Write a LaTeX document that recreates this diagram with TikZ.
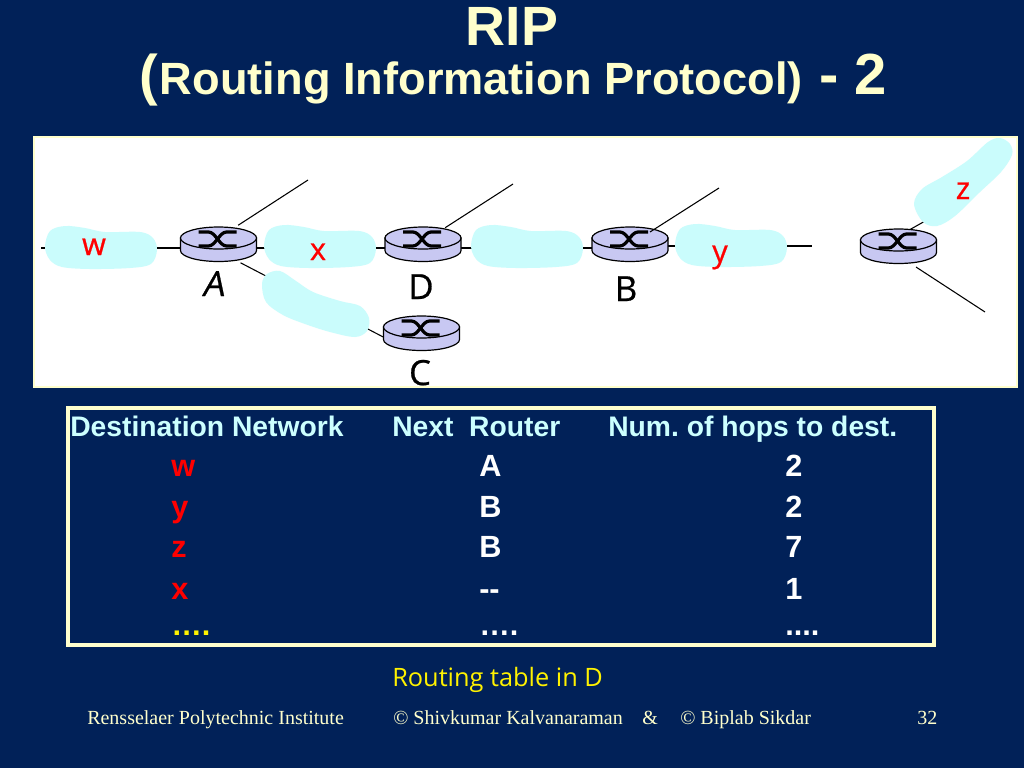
\documentclass[tikz,border=0pt]{standalone}
\usepackage{fontspec}
\setmainfont{Liberation Sans}
\newfontfamily\serifface{Liberation Serif}
\newfontfamily\handface{Open Sans}
\newfontfamily\handbold[FakeBold=0.7]{Open Sans}
\newfontfamily\handslant[FakeBold=0.7,FakeSlant=0.18]{Open Sans}
\usetikzlibrary{shapes.geometric}
\definecolor{bgblue}{HTML}{012158}
\definecolor{cream}{HTML}{FFFFCC}
\definecolor{paleCyan}{HTML}{CCFFFF}
\definecolor{cloudc}{HTML}{CAFCFC}
\definecolor{routerc}{HTML}{C8C8F2}
\tikzset{
  hub/.style={shape=ellipse,minimum width=57pt,minimum height=16.5pt,inner sep=0pt},
  wire/.style={draw=black,line width=0.8pt},
  cloud/.style={fill=cloudc,draw=none},
  rname/.style={font=\handbold\fontsize{26}{26}\selectfont,text=black,anchor=base,inner sep=0pt},
  netname/.style={font=\handbold\fontsize{23}{23}\selectfont,text=red,anchor=base,inner sep=0pt},
  title/.style={text=cream,anchor=base,inner sep=0pt,font=\bfseries},
  thead/.style={text=paleCyan,anchor=base west,inner sep=0pt,font=\bfseries\fontsize{21.2}{21}\selectfont},
  tdest/.style={text=red,anchor=base west,inner sep=0pt,font=\bfseries\fontsize{23}{23}\selectfont},
  tcell/.style={text=white,anchor=base west,inner sep=0pt,font=\bfseries\fontsize{23}{23}\selectfont},
  foot/.style={text=cream,anchor=base west,inner sep=0pt,font=\serifface\fontsize{15}{15}\selectfont},
}
\newcommand{\routerart}[1]{%
  \begin{scope}[shift={(#1.center)}]
    \filldraw[fill=routerc,draw=black,line width=0.9pt] (-38,0) -- (-38,12.5) arc (180:360:28.5pt and 8.25pt) -- (38,0) -- cycle;
    \filldraw[fill=routerc,draw=black,line width=0.9pt] (0,0) ellipse (28.5pt and 8.25pt);
    \draw[black,line width=2.4pt] (-20,-6) -- (-10,-6) .. controls (-3,-6) and (1,8) .. (8,8) -- (18,8);
    \draw[black,line width=2.4pt] (-20,8) -- (-10,8) .. controls (-3,8) and (1,-6) .. (8,-6) -- (18,-6);
  \end{scope}}
\newcommand{\longcloud}[2]{\fill[cloud,shift={(#1,#2)}] plot[smooth cycle,tension=0.55] coordinates {(45,247) (50,231) (65,226) (85,228) (105,232) (140,232) (153,238) (157,250) (151,264) (130,268) (90,269) (62,267) (50,260)};}
\begin{document}
\frenchspacing
\begin{tikzpicture}[x=0.75pt,y=-0.75pt]
\useasboundingbox (0,0) rectangle (1024,768);
\fill[bgblue] (0,0) rectangle (1024,768);
% panel
\filldraw[fill=white,draw=cream,line width=1.5pt] (34,137) rectangle (1017,387);
% hubs
\node[hub] (A) at (218.5,238) {};
\node[hub] (D) at (423,238) {};
\node[hub] (C) at (421.5,327) {};
\node[hub] (B) at (630,238) {};
\node[hub] (E) at (898.5,240) {};
\coordinate (wend) at (41,248);
\coordinate (yend) at (812,246);
\coordinate (aup) at (308,180);
\coordinate (dup) at (513,184);
\coordinate (bup) at (719,188);
\coordinate (zup) at (950,207);
\coordinate (edown) at (985,312);
% wires
\draw[wire] (wend) -- ([yshift=-7.5pt]A.center);
\draw[wire] ([yshift=-7.5pt]A.center) -- ([yshift=-7.5pt]D.center);
\draw[wire] ([yshift=-7.5pt]D.center) -- ([yshift=-7.5pt]B.center);
\draw[wire] ([yshift=-6pt]B.center) -- (yend);
\draw[wire,shorten <=17.6pt] (A.center) -- (aup);
\draw[wire,shorten <=19.8pt] ([yshift=-3pt]D.center) -- (dup);
\draw[wire,shorten <=18.6pt] ([yshift=-10pt]A.center) -- ([yshift=-7.5pt]C.west);
\draw[wire] ([yshift=3pt]E.center) -- (zup);
\draw[wire,shorten <=15.7pt] ([yshift=-11.7pt]E.center) -- (edown);
% routers
\routerart{A}\routerart{D}\routerart{C}\routerart{B}\routerart{E}
\draw[wire] (B.center) ++(20,-6) -- (bup);
% clouds
\longcloud{0}{0}
\longcloud{219}{-1}
\longcloud{426}{-1}
\longcloud{630}{-2}
\fill[cloud] plot[smooth cycle,tension=0.55] coordinates {(262,284) (267,274) (280,271) (296,281) (313,292) (340,301) (360,306) (369,318) (367,331) (355,337) (330,332) (305,324) (283,315) (266,302)};
\fill[cloud] plot[smooth cycle,tension=0.55] coordinates {(1000,138) (1010,144) (1012,155) (1001,172) (980,192) (955,216) (937,226) (923,222) (914,204) (922,189) (942,177) (967,161) (988,142)};
% labels
\node[rname,font=\handslant\fontsize{26}{26}\selectfont] (la) at (213,296) {A};
\node[rname] (ld) at (421,299) {D};
\node[rname] (lb) at (626,301) {B};
\node[rname] (lc) at (420,385) {C};
\node[netname] (nw) at (94,255) {w};
\node[netname] (nx) at (318,260) {x};
\node[netname] (ny) at (720,262) {y};
\node[netname] (nz) at (963,199) {z};
% title
\node[title,font=\bfseries\fontsize{41.5}{41}\selectfont] (t1) at (512,45) {RIP};
\node[title,anchor=base west] (t2) at (139,94) {\fontsize{42}{42}\selectfont (\kern1.5pt\fontsize{33.9}{34}\selectfont Routing Information Protocol)\kern3pt\ \fontsize{43.5}{43}\selectfont - 2};
% table
\draw[cream,line width=3pt] (68,408) rectangle (934,645);
\node[thead] (h1) at (70,436) {Destination Network};
\node[thead] (h2) at (392,436) {Next\ \ Router};
\node[thead] (h3) at (608,436) {Num. of hops to dest.};
\node[tdest] (r1) at (171,476) {w};
\node[tcell] (r1b) at (479,476) {A};
\node[tcell] (r1c) at (785,476) {2};
\node[tdest] (r2) at (171,517) {y};
\node[tcell] (r2b) at (479,517) {B};
\node[tcell] (r2c) at (785,517) {2};
\node[tdest] (r3) at (171,557) {z};
\node[tcell] (r3b) at (479,557) {B};
\node[tcell] (r3c) at (785,557) {7};
\node[tdest] (r4) at (171,599) {x};
\node[tcell] (r4b) at (479,599) {-{}-};
\node[tcell] (r4c) at (785,599) {1};
\node[tcell,text=yellow] (r5) at (171,635) {….};
\node[tcell] (r5b) at (479,635) {….};
\node[tcell] (r5c) at (785,635) {....};
\node[text=yellow,anchor=base west,inner sep=0pt,font=\handface\fontsize{19}{19}\selectfont] (cap) at (392,686) {Routing table in D};
% footer
\node[foot] (f1) at (87,724) {Rensselaer Polytechnic Institute};
\node[foot] (f2) at (393,724) {© Shivkumar Kalvanaraman};
\node[foot] (f3) at (642,724) {\&};
\node[foot] (f4) at (680,724) {© Biplab Sikdar};
\node[foot] (f5) at (917,724) {32};
\end{tikzpicture}
\end{document}
